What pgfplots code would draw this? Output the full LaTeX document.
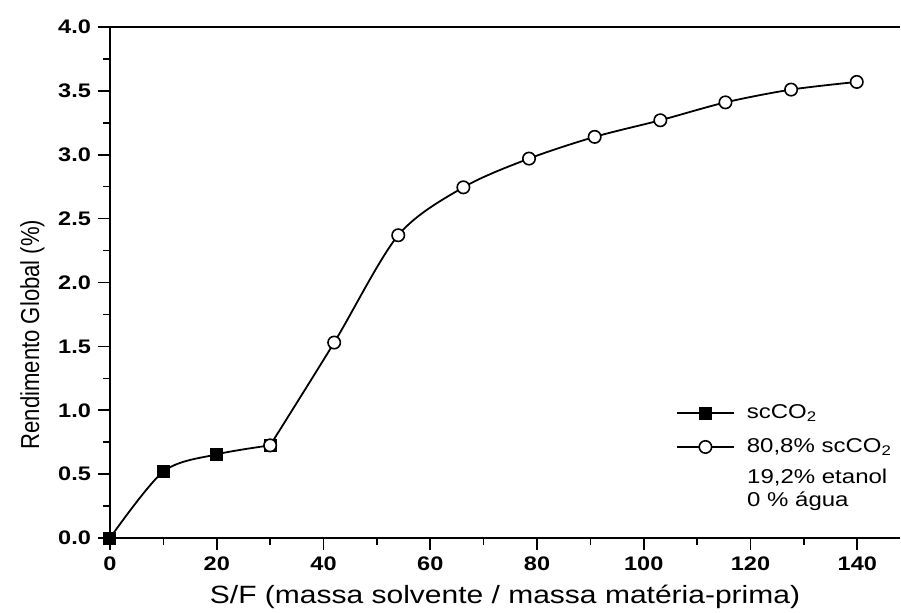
\documentclass[border=0pt]{standalone}
\usepackage{fontspec}
\setmainfont[FakeStretch=1.2]{Liberation Sans}
\newfontfamily\yfont[FakeStretch=0.85]{Liberation Sans}
\usepackage{pgfplots}
\pgfplotsset{compat=1.18}
\begin{document}
\begin{tikzpicture}
\begin{axis}[
  scale only axis, width=395pt, height=255.5pt,
  xmin=0, xmax=148, ymin=0, ymax=4,
  axis x line=box, axis y line=left,
  axis line style={line width=1pt, -},
  xtick={0,20,...,140}, minor xtick={10,30,...,130},
  ytick={0,0.5,...,4}, minor ytick={0.25,0.75,...,3.75},
  xtick pos=bottom, ytick pos=left,
  tick align=outside,
  major tick length=6pt, minor tick length=3.5pt,
  every tick/.style={black, line width=0.8pt},
  /pgf/number format/assume math mode=true,
  xticklabel style={font=\bfseries\fontsize{9.8}{11}\selectfont},
  yticklabel style={font=\bfseries\fontsize{9.8}{11}\selectfont, /pgf/number format/.cd, fixed, fixed zerofill, precision=1},
  xlabel={S/F (massa solvente / massa matéria-prima)},
  ylabel={Rendimento Global (\%)},
  xlabel style={font=\fontsize{12.5}{14}\selectfont, yshift=0pt},
  ylabel style={font=\yfont\fontsize{13}{15}\selectfont, yshift=0pt, xshift=-26pt},
  legend style={draw=none, fill=none, at={(rel axis cs:0.716,0.262)}, anchor=north west,
    font=\fontsize{10}{12}\selectfont, row sep=8.5pt, inner sep=0pt,
    nodes={inner sep=0pt, outer sep=0pt}},
  legend cell align=left,
  legend image code/.code={%
    \draw[mark repeat=2, mark phase=2] plot coordinates {(0pt,0pt) (14.25pt,0pt) (28.5pt,0pt)};},
  legend style={column sep=6pt},
  clip=false,
]
\addplot[black, line width=0.9pt, smooth, mark=square*, mark size=2.8pt,
  mark options={fill=black, solid}]
  coordinates {(0,0) (10,0.52) (20,0.655) (30,0.725)};
\addlegendentry{scCO\textsubscript{2}}
\addplot[black, line width=0.9pt, smooth, mark=*, mark size=3.1pt,
  mark options={fill=white, solid, line width=0.8pt}]
  coordinates {(30,0.725) (42,1.53) (54,2.37) (66.2,2.745) (78.5,2.97) (90.8,3.14)
               (103.1,3.27) (115.3,3.41) (127.6,3.51) (139.9,3.57)};
\addlegendentry{80,8\% scCO\textsubscript{2}}
\coordinate (ll) at (rel axis cs:0,0);
\coordinate (ur) at (rel axis cs:1,1);
\node[anchor=north west, align=left, font=\fontsize{10}{11.5}\selectfont, inner sep=0pt]
  at (axis cs:119.3,0.545) {19,2\% etanol\\0 \% água};
\end{axis}
\pgfresetboundingbox
\path[use as bounding box] ([shift={(-55pt,-37pt)}]ll) rectangle ([shift={(0.5pt,13.5pt)}]ur);
\end{tikzpicture}
\end{document}
